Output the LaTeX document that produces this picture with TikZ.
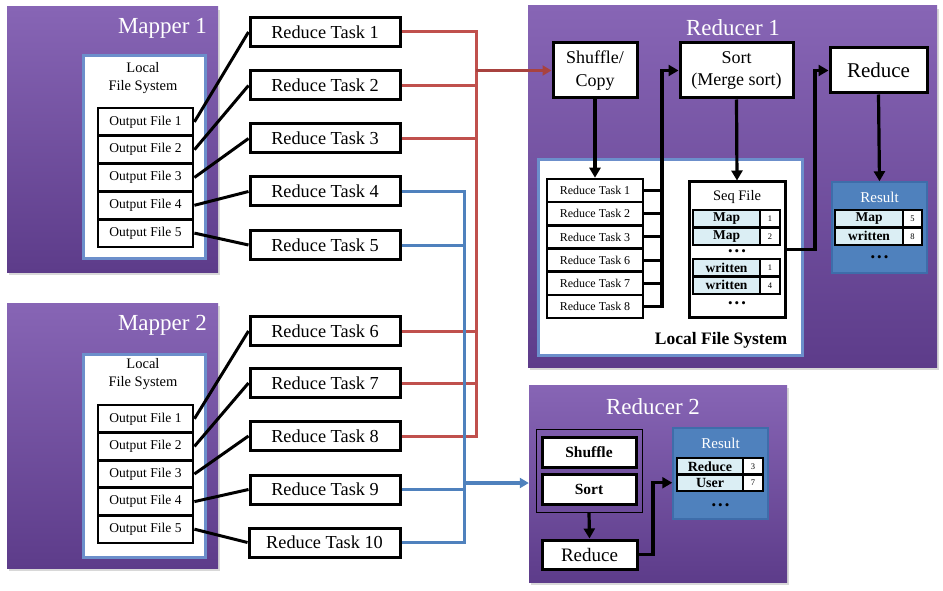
\documentclass[tikz,border=0pt]{standalone}
\usepackage{fontspec}
\setmainfont{Liberation Serif}
\usetikzlibrary{arrows.meta,shadows}
\newcommand{\myfs}[2]{\fontsize{#1}{#2}\selectfont}
\definecolor{ptop}{HTML}{8765B5}
\definecolor{pbot}{HTML}{5D3C8A}
\definecolor{lfsb}{HTML}{6C8FCB}
\definecolor{redl}{HTML}{C0504D}
\definecolor{redd}{HTML}{A8423F}
\definecolor{bluel}{HTML}{4F81BD}
\definecolor{resb}{HTML}{4F81BD}
\definecolor{resd}{HTML}{3E6DAA}
\definecolor{cellc}{HTML}{DBEEF4}
\begin{document}
\begin{tikzpicture}[x=1pt,y=-1pt,
  pbox/.style={inner sep=0pt, top color=ptop, bottom color=pbot, draw=none,
    drop shadow={shadow xshift=2pt, shadow yshift=-3pt, opacity=0.3}},
  lfs/.style={draw=lfsb, line width=3pt, fill=white, inner sep=0pt},
  title/.style={text=white, font=\myfs{23}{23}, inner sep=0pt},
  rtbox/.style={draw=black, line width=3pt, fill=white, inner sep=0pt,
    minimum width=150pt, minimum height=29pt, font=\myfs{18.3}{18}},
  ofbox/.style={draw=black, line width=2.8pt, fill=white, inner sep=0pt,
    minimum width=95pt, minimum height=27.8pt, font=\myfs{13.5}{13.5}},
  qbox/.style={draw=black, line width=2.6pt, fill=white, inner sep=0pt,
    minimum width=96pt, minimum height=23.17pt, font=\myfs{12}{12}},
  stepbox/.style={draw=black, line width=3pt, fill=white, inner sep=0pt, align=center},
  cellk/.style={draw=black, line width=2.5pt, fill=cellc, inner sep=0pt,
    minimum height=17.5pt, font=\myfs{13.5}{13.5}\bfseries},
  celln/.style={draw=black, line width=2.5pt, fill=white, inner sep=0pt,
    minimum height=17.5pt, font=\myfs{8.5}{8.5}},
  resbox/.style={draw=resd, line width=1.5pt, fill=resb, inner sep=0pt,
    minimum width=95pt, minimum height=91pt},
  dots/.style={font=\myfs{13}{13}, inner sep=0pt},
  conn/.style={draw=black, line width=3pt},
  arr/.style={draw=black, line width=3.2pt, -{Triangle[width=11pt,length=10pt]}},
  redc/.style={draw=redl, line width=3pt},
  bluec/.style={draw=bluel, line width=3pt},
  redarr/.style={draw=redd, line width=3.2pt, -{Triangle[width=10pt,length=9pt]}},
  bluearr/.style={draw=bluel, line width=3.2pt, -{Triangle[width=10pt,length=9pt]}}
]
\useasboundingbox (0,0) rectangle (943,591);
\fill[white] (0,0) rectangle (943,591);

% ---------- Mapper 1 ----------
\node[pbox, minimum width=211pt, minimum height=265pt] (m1) at (112.5,139.5) {};
\node[title, anchor=east] (m1t) at (207,28) {Mapper 1};
\node[lfs, minimum width=122pt, minimum height=202pt] (l1) at (144,157) {};
\node[align=center, font=\myfs{14.5}{18}, inner sep=0pt] (l1t) at (143,78) {Local\\File System};
\node[ofbox] (a1) at (145.5,121.9) {Output File 1};
\node[ofbox] (a2) at (145.5,149.7) {Output File 2};
\node[ofbox] (a3) at (145.5,177.5) {Output File 3};
\node[ofbox] (a4) at (145.5,205.3) {Output File 4};
\node[ofbox] (a5) at (145.5,233.1) {Output File 5};

% ---------- Mapper 2 ----------
\node[pbox, minimum width=211pt, minimum height=265pt] (m2) at (112.5,435.5) {};
\node[title, anchor=east] (m2t) at (207,325) {Mapper 2};
\node[lfs, minimum width=122pt, minimum height=203pt] (l2) at (144,455.5) {};
\node[align=center, font=\myfs{14.5}{18}, inner sep=0pt] (l2t) at (143,374.5) {Local\\File System};
\node[ofbox, minimum height=27.6pt] (b1) at (145.5,418.8) {Output File 1};
\node[ofbox, minimum height=27.6pt] (b2) at (145.5,446.4) {Output File 2};
\node[ofbox, minimum height=27.6pt] (b3) at (145.5,474.0) {Output File 3};
\node[ofbox, minimum height=27.6pt] (b4) at (145.5,501.6) {Output File 4};
\node[ofbox, minimum height=27.6pt] (b5) at (145.5,529.2) {Output File 5};

% ---------- Reduce tasks ----------
\node[rtbox] (rt1) at (325,32) {Reduce Task 1};
\node[rtbox] (rt2) at (325,85.5) {Reduce Task 2};
\node[rtbox] (rt3) at (325,138.5) {Reduce Task 3};
\node[rtbox] (rt4) at (325,191.5) {Reduce Task 4};
\node[rtbox] (rt5) at (325,245) {Reduce Task 5};
\node[rtbox] (rt6) at (325,331) {Reduce Task 6};
\node[rtbox] (rt7) at (325,383) {Reduce Task 7};
\node[rtbox] (rt8) at (325,436) {Reduce Task 8};
\node[rtbox] (rt9) at (325,489.5) {Reduce Task 9};
\node[rtbox, minimum width=151pt] (rt10) at (324.5,542.5) {Reduce Task 10};

\draw[conn] (a1.east) -- (rt1.west);
\draw[conn] (a2.east) -- (rt2.west);
\draw[conn] (a3.east) -- (rt3.west);
\draw[conn] (a4.east) -- (rt4.west);
\draw[conn] (a5.east) -- (rt5.west);
\draw[conn] (b1.east) -- (rt6.west);
\draw[conn] (b2.east) -- (rt7.west);
\draw[conn] (b3.east) -- (rt8.west);
\draw[conn] (b4.east) -- (rt9.west);
\draw[conn] (b5.east) -- (rt10.west);

% ---------- Reducer 1 ----------
\node[pbox, minimum width=409pt, minimum height=361pt] (r1) at (732.5,186.5) {};
\node[title] (r1t) at (733,28) {Reducer 1};
\node[stepbox, minimum width=84pt, minimum height=55pt, font=\myfs{18}{23}] (shuf) at (595,70.5) {Shuffle/\\Copy};
\node[stepbox, minimum width=113pt, minimum height=55pt, font=\myfs{18}{22}] (sort) at (736.5,70.5) {Sort\\(Merge sort)};
\node[stepbox, minimum width=97pt, minimum height=45pt, font=\myfs{21}{21}] (red1) at (878.5,70.5) {Reduce};
\node[lfs, minimum width=264pt, minimum height=195pt] (l3) at (670,257.5) {};
\node[font=\myfs{17.5}{17.5}\bfseries, inner sep=0pt] (l3t) at (721,340) {Local File System};

\node[qbox] (q1) at (595,190.6) {Reduce Task 1};
\node[qbox] (q2) at (595,213.75) {Reduce Task 2};
\node[qbox] (q3) at (595,236.9) {Reduce Task 3};
\node[qbox] (q4) at (595,260.1) {Reduce Task 6};
\node[qbox] (q5) at (595,283.25) {Reduce Task 7};
\node[qbox] (q6) at (595,306.4) {Reduce Task 8};

\node[draw=black, line width=3pt, fill=white, inner sep=0pt, minimum width=96pt, minimum height=135pt] (seq) at (737,249.5) {};
\node[font=\myfs{14.5}{14.5}, inner sep=0pt] (seqt) at (737,197) {Seq File};
\node[cellk, minimum width=67pt] (s1k) at (726.5,218.75) {Map};
\node[celln, minimum width=20pt] (s1n) at (770,218.75) {1};
\node[cellk, minimum width=67pt] (s2k) at (726.5,236.25) {Map};
\node[celln, minimum width=20pt] (s2n) at (770,236.25) {2};
\node[dots] (sd1) at (737,253) {\textbullet\kern2pt\textbullet\kern2pt\textbullet};
\node[cellk, minimum width=67pt] (s3k) at (726.5,267.75) {written};
\node[celln, minimum width=20pt] (s3n) at (770,267.75) {1};
\node[cellk, minimum width=67pt] (s4k) at (726.5,285.25) {written};
\node[celln, minimum width=20pt] (s4n) at (770,285.25) {4};
\node[dots] (sd2) at (737,305) {\textbullet\kern2pt\textbullet\kern2pt\textbullet};

\node[resbox] (res1) at (879.5,227.5) {};
\node[text=white, font=\myfs{15}{15}, inner sep=0pt] (res1t) at (879.5,197) {Result};
\node[cellk, minimum width=68pt] (t1k) at (869,218.75) {Map};
\node[celln, minimum width=19pt] (t1n) at (912.5,218.75) {5};
\node[cellk, minimum width=68pt] (t2k) at (869,236.25) {written};
\node[celln, minimum width=19pt] (t2n) at (912.5,236.25) {8};
\node[dots] (td) at (879.5,259) {\textbullet\kern2pt\textbullet\kern2pt\textbullet};

\coordinate (kx) at (662,0);
\coordinate (sx) at (815,0);
\draw[arr] (shuf.south) -- (q1.north);
\draw[arr] (sort.south) -- (seq.north);
\draw[arr] (red1.south) -- (res1.north);
\foreach \i in {1,...,5} \draw[conn] (q\i.east) -- (q\i.east -| kx);
\draw[arr] (q6.east) -- (q6.east -| kx) -- (sort.west -| kx) -- (sort.west);
\draw[arr] (seq.east) -- (seq.east -| sx) -- (red1.west -| sx) -- (red1.west);

% ---------- Reducer 2 ----------
\node[pbox, minimum width=258pt, minimum height=197pt] (r2) at (658,483.5) {};
\node[title] (r2t) at (653,407) {Reducer 2};
\node[draw=black, line width=0.8pt, inner sep=0pt, minimum width=106pt, minimum height=83pt] (fr2) at (589,470.5) {};
\node[stepbox, minimum width=94pt, minimum height=30pt, font=\myfs{15.5}{15.5}\bfseries] (shuf2) at (589,452) {Shuffle};
\node[stepbox, minimum width=94pt, minimum height=30pt, font=\myfs{15.5}{15.5}\bfseries] (sort2) at (589,489) {Sort};
\node[stepbox, minimum width=95pt, minimum height=29pt, font=\myfs{19}{19}] (red2) at (589.5,554.5) {Reduce};
\node[resbox] (res2) at (720.5,473.5) {};
\node[text=white, font=\myfs{15}{15}, inner sep=0pt] (res2t) at (720.5,443) {Result};
\node[cellk, minimum width=66pt, minimum height=16.5pt, font=\myfs{14}{14}\bfseries] (u1k) at (710,466.25) {Reduce};
\node[celln, minimum width=20pt, minimum height=16.5pt] (u1n) at (753,466.25) {3};
\node[cellk, minimum width=66pt, minimum height=16.5pt, font=\myfs{14}{14}\bfseries] (u2k) at (710,482.75) {User};
\node[celln, minimum width=20pt, minimum height=16.5pt] (u2n) at (753,482.75) {7};
\node[dots] (ud) at (720.5,507) {\textbullet\kern2pt\textbullet\kern2pt\textbullet};

\coordinate (tx) at (653,0);
\draw[arr] (fr2.south) -- (red2.north);
\draw[arr] (red2.east) -- (red2.east -| tx) -- (u2k.west -| tx) -- (res2.west |- u2k.west);

% ---------- red and blue routing ----------
\coordinate (rx) at (476,0);
\coordinate (bx) at (464,0);
\coordinate (bj) at (464,483);
\draw[redc] (rt1.east) -- (rt1.east -| rx) -- (rt8.east -| rx) -- (rt8.east);
\foreach \i in {2,3,6,7} \draw[redc] (rt\i.east) -- (rt\i.east -| rx);
\draw[bluec] (rt4.east) -- (rt4.east -| bx) -- (rt10.east -| bx) -- (rt10.east);
\draw[bluec] (rt5.east) -- (rt5.east -| bx);
\draw[bluec] (rt9.east) -- (rt9.east -| bx);
\draw[redarr] (shuf.west -| rx) -- (shuf.west);
\draw[bluearr] (bj) -- (bj -| r2.west);
\end{tikzpicture}
\end{document}
